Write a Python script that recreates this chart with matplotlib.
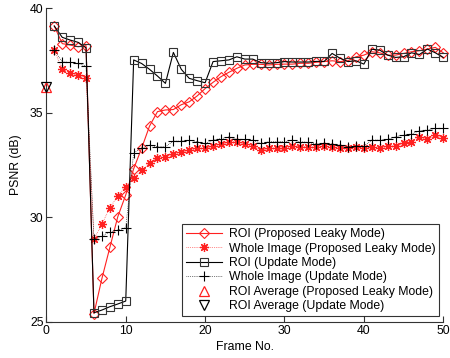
import matplotlib
matplotlib.use("Agg")
import matplotlib.pyplot as plt
import numpy as np

plt.rcParams['font.family'] = ['Liberation Sans', 'DejaVu Sans']

frames = list(range(1, 51))
roi_leaky = [39.14, 38.30, 38.23, 38.15, 38.20, 25.40, 27.08, 28.56, 30.03, 31.07,
             32.32, 33.30, 34.36, 35.05, 35.13, 35.15, 35.38, 35.52, 35.80, 36.15,
             36.45, 36.72, 36.93, 37.12, 37.28, 37.31, 37.31, 37.28, 37.31, 37.32,
             37.32, 37.36, 37.36, 37.41, 37.44, 37.48, 37.44, 37.48, 37.67, 37.75,
             37.91, 37.86, 37.75, 37.75, 37.83, 37.91, 37.96, 38.04, 38.12, 37.86]
whole_leaky = [37.99, 37.08, 36.90, 36.80, 36.67, 28.95, 29.68, 30.46, 31.02, 31.46,
               31.86, 32.26, 32.58, 32.85, 32.90, 33.01, 33.13, 33.20, 33.29, 33.29,
               33.40, 33.50, 33.59, 33.61, 33.50, 33.40, 33.20, 33.29, 33.29, 33.29,
               33.40, 33.37, 33.37, 33.34, 33.40, 33.34, 33.29, 33.29, 33.34, 33.29,
               33.37, 33.29, 33.40, 33.40, 33.53, 33.61, 33.82, 33.72, 33.93, 33.77]
roi_update = [39.14, 38.60, 38.47, 38.36, 38.10, 25.44, 25.57, 25.73, 25.86, 26.00,
              37.52, 37.35, 37.07, 36.75, 36.40, 37.88, 37.07, 36.64, 36.53, 36.43,
              37.44, 37.48, 37.52, 37.67, 37.56, 37.56, 37.39, 37.36, 37.39, 37.44,
              37.42, 37.42, 37.42, 37.45, 37.45, 37.83, 37.60, 37.44, 37.48, 37.32,
              38.03, 37.99, 37.75, 37.64, 37.67, 37.86, 37.78, 38.04, 37.86, 37.64]
whole_update = [38.00, 37.43, 37.40, 37.35, 37.23, 28.95, 29.10, 29.31, 29.39, 29.50,
                33.09, 33.30, 33.45, 33.37, 33.37, 33.64, 33.64, 33.69, 33.61, 33.53,
                33.69, 33.76, 33.84, 33.72, 33.72, 33.69, 33.53, 33.61, 33.61, 33.61,
                33.69, 33.61, 33.58, 33.50, 33.53, 33.50, 33.45, 33.37, 33.40, 33.40,
                33.69, 33.69, 33.72, 33.85, 33.93, 33.98, 34.14, 34.17, 34.25, 34.25]
avg_frame = [0]
avg_leaky = [36.24]
avg_update = [36.24]

labels = ["ROI (Proposed Leaky Mode)", "Whole Image (Proposed Leaky Mode)",
          "ROI (Update Mode)", "Whole Image (Update Mode)",
          "ROI Average (Proposed Leaky Mode)", "ROI Average (Update Mode)"]

RED = '#ff2020'
FS = 8.8
fig = plt.figure(figsize=(4.5, 3.58), dpi=100)
ax = fig.add_axes([0.103, 0.1006, 0.882, 0.877])

ax.plot(frames, roi_leaky, color=RED, ls='-', lw=0.8, marker='D', ms=5,
        mfc='none', mec=RED, mew=0.8, label=labels[0], clip_on=False, zorder=3)
ax.plot(frames, whole_leaky, color=RED, ls=':', lw=0.5, marker=(8, 2, 0), ms=6.5,
        mec=RED, mew=0.9, label=labels[1], clip_on=False, zorder=3)
ax.plot(frames, roi_update, color='black', ls='-', lw=0.8, marker='s', ms=5.3,
        mfc='none', mec='#333333', mew=0.8, label=labels[2], clip_on=False, zorder=3)
ax.plot(frames, whole_update, color='black', ls=':', lw=0.5, marker='+', ms=7,
        mec='black', mew=0.8, label=labels[3], clip_on=False, zorder=3)
ax.plot(avg_frame, avg_leaky, ls='none', marker='^', ms=7, mfc='none', mec=RED,
        mew=0.9, label=labels[4], clip_on=False, zorder=4)
ax.plot(avg_frame, avg_update, ls='none', marker='v', ms=7, mfc='none', mec='black',
        mew=0.9, label=labels[5], clip_on=False, zorder=4)

ax.set_xlim(0, 50)
ax.set_ylim(25, 40)
ax.set_xticks([0, 10, 20, 30, 40, 50])
ax.set_yticks([25, 30, 35, 40])
ax.spines['top'].set_visible(False)
ax.spines['right'].set_visible(False)
for s in ('left', 'bottom'):
    ax.spines[s].set_color('#333333')
    ax.spines[s].set_linewidth(0.8)
ax.tick_params(direction='in', length=4, width=0.8, labelsize=FS, color='#333333',
               pad=2)
ax.set_xlabel("Frame No.", fontsize=FS, labelpad=3)
ax.set_ylabel("PSNR (dB)", fontsize=FS, labelpad=6)

leg = ax.legend(loc='lower right', bbox_to_anchor=(0.989, 0.019), borderaxespad=0,
                fontsize=FS, frameon=True, fancybox=False, handlelength=3.0,
                handletextpad=0.5, labelspacing=0.2, borderpad=0.3, numpoints=1)
leg.get_frame().set_edgecolor('black')
leg.get_frame().set_linewidth(0.8)
leg.set_zorder(5)

fig.savefig("out.png", dpi=100)
